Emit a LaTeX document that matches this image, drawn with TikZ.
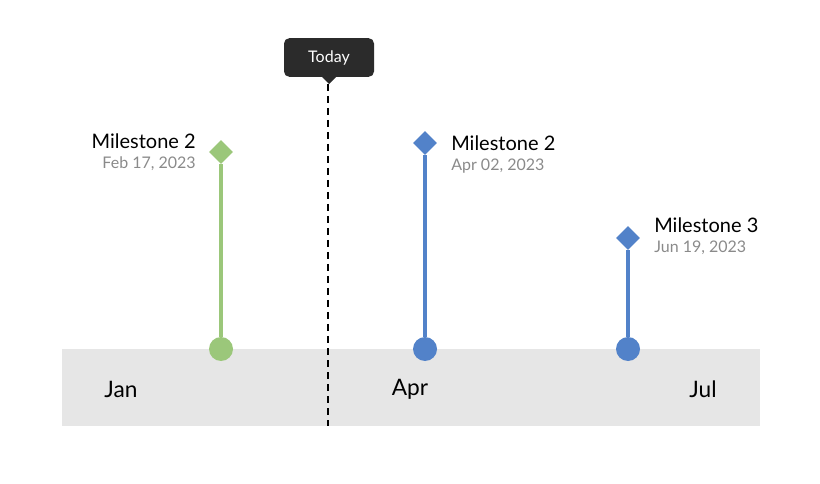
\documentclass[tikz,border=0pt]{standalone}
\usepackage{fontspec}
\setmainfont{Lato}
\usetikzlibrary{shapes.geometric}
\definecolor{band}{HTML}{E6E6E6}
\definecolor{grn}{HTML}{9BC77A}
\definecolor{blu}{HTML}{5282C9}
\definecolor{tip}{HTML}{2B2B2B}
\definecolor{dgray}{HTML}{8A8A8A}
\begin{document}
\begin{tikzpicture}[x=0.75pt,y=-0.75pt,
  dia/.style={diamond,minimum size=18pt,inner sep=0pt},
  dot/.style={circle,minimum size=18pt,inner sep=0pt},
  stem/.style={line width=3pt},
  title/.style={font=\fontsize{15}{18}\selectfont,inner sep=0pt},
  datel/.style={font=\fontsize{12}{14}\selectfont,text=dgray,inner sep=0pt},
  month/.style={font=\fontsize{17}{20}\selectfont,inner sep=0pt}]
\useasboundingbox (0,0) rectangle (820,484);
\fill[band] (62,349) rectangle (760,426);
\coordinate (dtop) at (328,84);
\coordinate (dbot) at (328,426);
\draw[dashed,line width=1.2pt,dash pattern=on 5pt off 4pt] (dtop) -- (dbot);
\node[fill=tip,rounded corners=4pt,minimum width=67.5pt,minimum height=29pt,text=white,font=\fontsize{12}{14}\selectfont] (today) at (329,57.5) {Today};
\fill[tip] (321,76) -- (329,84) -- (337,76) -- cycle;
% green
\node[dia,fill=grn] (g1) at (221,152) {};
\node[dot,fill=grn] (g2) at (221,349) {};
\draw[stem,grn] (g1) -- (g2);
\node[title,anchor=east] (gt) at (196,141) {Milestone 2};
\node[datel,anchor=east] (gd) at (196,164) {Feb 17, 2023};
% blue 1
\node[dia,fill=blu] (b1) at (425,143) {};
\node[dot,fill=blu] (b2) at (425,349) {};
\draw[stem,blu] (b1) -- (b2);
\node[title,anchor=west] (bt) at (451,143) {Milestone 2};
\node[datel,anchor=west] (bd) at (451,166) {Apr 02, 2023};
% blue 2
\node[dia,fill=blu] (c1) at (628,238) {};
\node[dot,fill=blu] (c2) at (628,349) {};
\draw[stem,blu] (c1) -- (c2);
\node[title,anchor=west] (ct) at (654,225) {Milestone 3};
\node[datel,anchor=west] (cd) at (654,248) {Jun 19, 2023};
% months
\node[month] (jan) at (121,389) {Jan};
\node[month] (apr) at (410,389) {Apr};
\node[month] (jul) at (703,389) {Jul};
\end{tikzpicture}
\end{document}
